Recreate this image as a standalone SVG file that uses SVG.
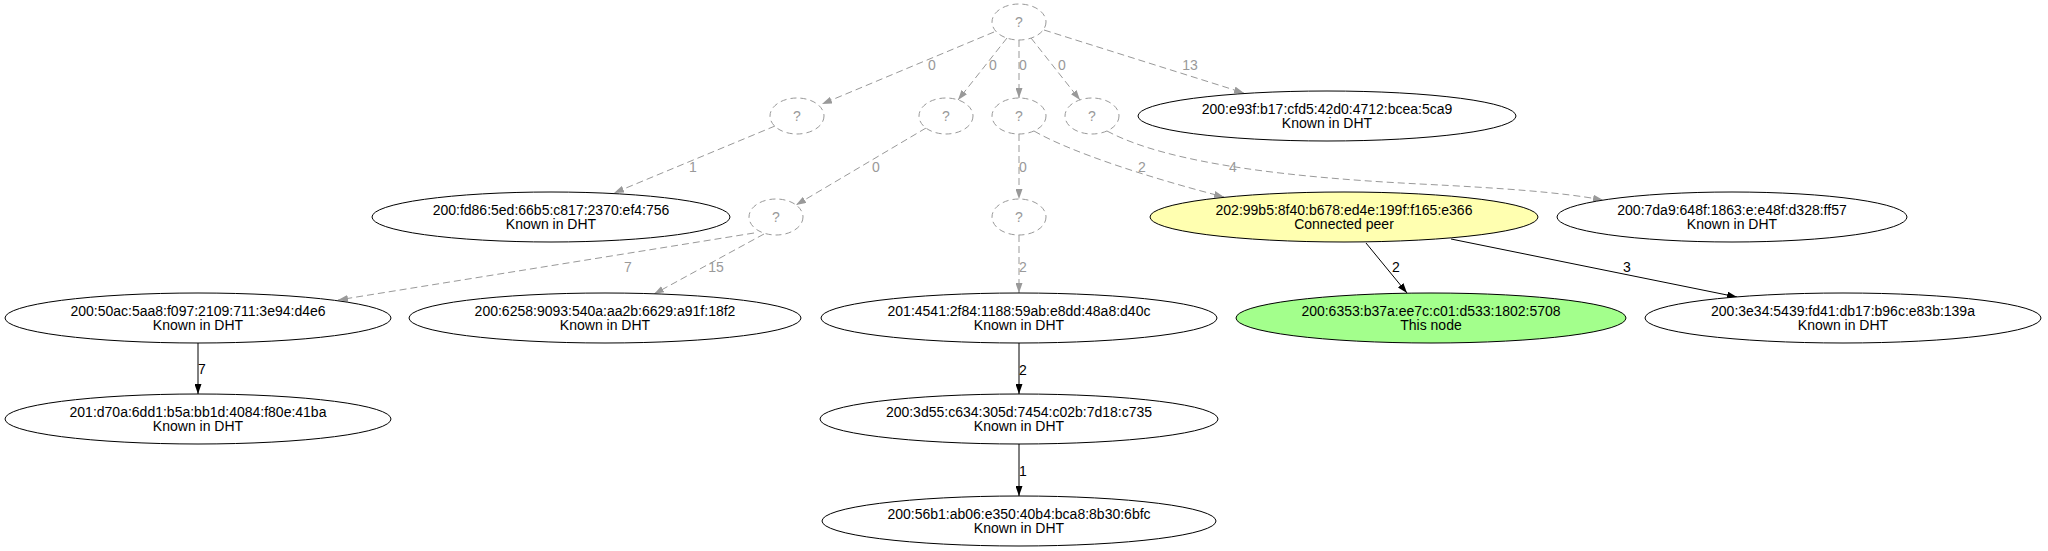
<svg xmlns="http://www.w3.org/2000/svg" width="2048" height="551" viewBox="0 0 2048 551">
<defs>
<style>
text{font-family:"Liberation Sans",Arial,Helvetica,sans-serif;font-size:14px;text-anchor:middle;fill:#000}
.n ellipse{stroke:#000;stroke-width:1;fill:#fff}
.q ellipse{stroke:#999;stroke-width:1;stroke-dasharray:6,4;fill:#fff}
.q text{fill:#999}
.eg{stroke:#999;stroke-width:1;stroke-dasharray:7,4;fill:none;marker-end:url(#ag)}
.eb{stroke:#000;stroke-width:1;fill:none;marker-end:url(#ab)}
.lg{fill:#999}
</style>
<marker id="ag" markerWidth="10" markerHeight="7" refX="10" refY="3.5" orient="auto" markerUnits="userSpaceOnUse"><path d="M0,0 L10,3.5 L0,7 z" fill="#999"/></marker>
<marker id="ab" markerWidth="10" markerHeight="7" refX="10" refY="3.5" orient="auto" markerUnits="userSpaceOnUse"><path d="M0,0 L10,3.5 L0,7 z" fill="#000"/></marker>
</defs>
<rect width="2048" height="551" fill="#fff"/>
<g id="edges">
<path class="eg" d="M994,32 L822,104"/>
<path class="eg" d="M1007,38 L958,100"/>
<path class="eg" d="M1019,40 L1019,98"/>
<path class="eg" d="M1031,38 L1080,100"/>
<path class="eg" d="M1044,30 L1244,93"/>
<path class="eg" d="M775,126 L614,193"/>
<path class="eg" d="M926,128 L796,205"/>
<path class="eg" d="M1019,134 L1019,199"/>
<path class="eg" d="M1034,131 C1070,152 1150,178 1224,197"/>
<path class="eg" d="M1107,131 C1170,165 1300,178 1420,184 C1500,188 1560,192 1603,200"/>
<path class="eg" d="M754,233 L338,300"/>
<path class="eg" d="M764,234 L654,294"/>
<path class="eg" d="M1019,235 L1019,293"/>
<path class="eb" d="M1366,243 L1407,293"/>
<path class="eb" d="M1451,239 L1737,297"/>
<path class="eb" d="M198,343 L198,394"/>
<path class="eb" d="M1019,343 L1019,394"/>
<path class="eb" d="M1019,444 L1019,496"/>
<text class="lg" x="932" y="70">0</text>
<text class="lg" x="993" y="70">0</text>
<text class="lg" x="1023" y="70">0</text>
<text class="lg" x="1062" y="70">0</text>
<text class="lg" x="1190" y="70">13</text>
<text class="lg" x="693" y="172">1</text>
<text class="lg" x="876" y="172">0</text>
<text class="lg" x="1023" y="172">0</text>
<text class="lg" x="1142" y="172">2</text>
<text class="lg" x="1233" y="172">4</text>
<text class="lg" x="628" y="272">7</text>
<text class="lg" x="716" y="272">15</text>
<text class="lg" x="1023" y="272">2</text>
<text x="1396" y="272">2</text>
<text x="1627" y="272">3</text>
<text x="202" y="374">7</text>
<text x="1023" y="375">2</text>
<text x="1023" y="476">1</text>
</g>
<g id="q0" class="q"><ellipse cx="1019" cy="22" rx="27" ry="18"/><text x="1019" y="27">?</text></g>
<g id="q1" class="q"><ellipse cx="797" cy="116" rx="27" ry="18"/><text x="797" y="121">?</text></g>
<g id="q2" class="q"><ellipse cx="946" cy="116" rx="27" ry="18"/><text x="946" y="121">?</text></g>
<g id="q3" class="q"><ellipse cx="1019" cy="116" rx="27" ry="18"/><text x="1019" y="121">?</text></g>
<g id="q4" class="q"><ellipse cx="1092" cy="116" rx="27" ry="18"/><text x="1092" y="121">?</text></g>
<g id="q5" class="q"><ellipse cx="776" cy="217" rx="27" ry="18"/><text x="776" y="222">?</text></g>
<g id="q6" class="q"><ellipse cx="1019" cy="217" rx="27" ry="18"/><text x="1019" y="222">?</text></g>
<g id="n_e93f" class="n"><ellipse cx="1327" cy="116" rx="189" ry="25"/><text x="1327" y="114">200:e93f:b17:cfd5:42d0:4712:bcea:5ca9</text><text x="1327" y="128">Known in DHT</text></g>
<g id="n_fd86" class="n"><ellipse cx="551" cy="217" rx="179" ry="25"/><text x="551" y="215">200:fd86:5ed:66b5:c817:2370:ef4:756</text><text x="551" y="229">Known in DHT</text></g>
<g id="n_99b5" class="n"><ellipse cx="1344" cy="217" rx="194" ry="25" style="fill:#ffffb0"/><text x="1344" y="215">202:99b5:8f40:b678:ed4e:199f:f165:e366</text><text x="1344" y="229">Connected peer</text></g>
<g id="n_7da9" class="n"><ellipse cx="1732" cy="217" rx="175" ry="25"/><text x="1732" y="215">200:7da9:648f:1863:e:e48f:d328:ff57</text><text x="1732" y="229">Known in DHT</text></g>
<g id="n_50ac" class="n"><ellipse cx="198" cy="318" rx="193" ry="25"/><text x="198" y="316">200:50ac:5aa8:f097:2109:711:3e94:d4e6</text><text x="198" y="330">Known in DHT</text></g>
<g id="n_6258" class="n"><ellipse cx="605" cy="318" rx="196" ry="25"/><text x="605" y="316">200:6258:9093:540a:aa2b:6629:a91f:18f2</text><text x="605" y="330">Known in DHT</text></g>
<g id="n_4541" class="n"><ellipse cx="1019" cy="318" rx="198" ry="25"/><text x="1019" y="316">201:4541:2f84:1188:59ab:e8dd:48a8:d40c</text><text x="1019" y="330">Known in DHT</text></g>
<g id="n_6353" class="n"><ellipse cx="1431" cy="318" rx="195" ry="25" style="fill:#a3ff8c"/><text x="1431" y="316">200:6353:b37a:ee7c:c01:d533:1802:5708</text><text x="1431" y="330">This node</text></g>
<g id="n_3e34" class="n"><ellipse cx="1843" cy="318" rx="198" ry="25"/><text x="1843" y="316">200:3e34:5439:fd41:db17:b96c:e83b:139a</text><text x="1843" y="330">Known in DHT</text></g>
<g id="n_d70a" class="n"><ellipse cx="198" cy="419" rx="193" ry="25"/><text x="198" y="417">201:d70a:6dd1:b5a:bb1d:4084:f80e:41ba</text><text x="198" y="431">Known in DHT</text></g>
<g id="n_3d55" class="n"><ellipse cx="1019" cy="419" rx="199" ry="25"/><text x="1019" y="417">200:3d55:c634:305d:7454:c02b:7d18:c735</text><text x="1019" y="431">Known in DHT</text></g>
<g id="n_56b1" class="n"><ellipse cx="1019" cy="521" rx="197" ry="25"/><text x="1019" y="519">200:56b1:ab06:e350:40b4:bca8:8b30:6bfc</text><text x="1019" y="533">Known in DHT</text></g>
</svg>
